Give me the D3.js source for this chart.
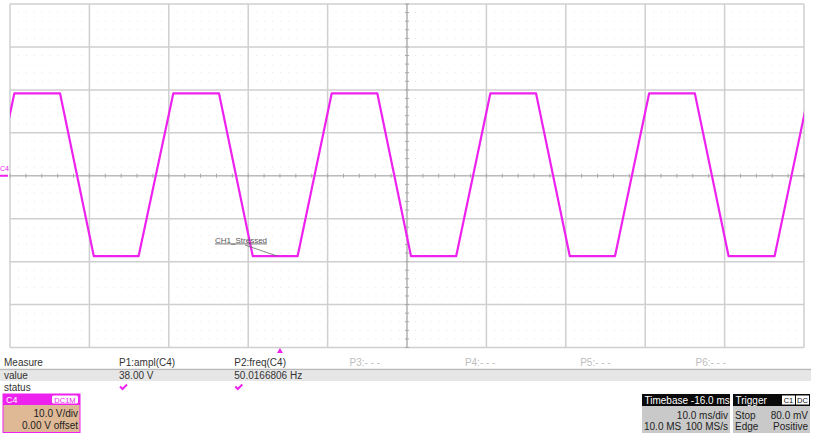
<!DOCTYPE html>
<html><head><meta charset="utf-8">
<script src="https://cdn.jsdelivr.net/npm/d3@7"></script>
<style>
html,body{margin:0;padding:0;background:#fff;}
svg{display:block;font-family:"Liberation Sans",Arial,sans-serif;}
</style></head>
<body><svg id="c" width="813" height="436"></svg>
<script>
// ---- data ----
const traceTimeMs = [-53.8, -49.45, -43.7, -39.45, -33.8, -29.43, -23.68, -19.43, -13.77, -9.48, -3.74, 0.5, 6.2, 10.5, 16.25, 20.5, 26.2, 30.5, 36.25, 40.5, 46.3, 50.6];
const traceVolts  = [-18.7, 19.2, 19.2, -18.7, -18.7, 19.2, 19.2, -18.7, -18.7, 19.2, 19.2, -18.7, -18.7, 19.2, 19.2, -18.7, -18.7, 19.2, 19.2, -18.7, -18.7, 19.2];
const measureRowLabels = ["Measure", "value", "status"];
const measureHeaders = ["P1:ampl(C4)", "P2:freq(C4)", "P3:- - -", "P4:- - -", "P5:- - -", "P6:- - -"];
const measureValues = ["38.00 V", "50.0166806 Hz", "", "", "", ""];
const measureStatus = [true, true, false, false, false, false];
const channelInfo = ["10.0 V/div", "0.00 V offset"];
const timebaseInfo = ["Timebase -16.0 ms", "10.0 ms/div", "10.0 MS", "100 MS/s"];
const triggerInfo = ["Trigger", "C1", "DC", "Stop", "80.0 mV", "Edge", "Positive"];
const annotationText = "CH1_Stressed";

const svg = d3.select("#c");
const L = 10, R = 804, T = 4, B = 347.5;
const x = d3.scaleLinear().domain([-50, 50]).range([L, R]);
const y = d3.scaleLinear().domain([-40, 40]).range([B, T]);
const MAG = "#ee22ee";

// minor dotted grid
const g = svg.append("g");
const minorX = d3.range(-50, 50.001, 2);
const minorY = d3.range(-40, 40.001, 2);
g.selectAll("line.mx").data(minorY).join("line")
  .attr("x1", L).attr("x2", R).attr("y1", d => y(d)).attr("y2", d => y(d))
  .attr("stroke", "#e6e6e6").attr("stroke-width", 1).attr("stroke-dasharray", "1,6.94");
// major grid
const majorX = d3.range(-50, 50.001, 10);
const majorY = d3.range(-40, 40.001, 10);
g.selectAll("line.vx").data(majorX).join("line")
  .attr("x1", d => x(d)).attr("x2", d => x(d)).attr("y1", T).attr("y2", B)
  .attr("stroke", "#cfcfcf").attr("stroke-width", 1.5);
g.selectAll("line.hy").data(majorY).join("line")
  .attr("x1", L).attr("x2", R).attr("y1", d => y(d)).attr("y2", d => y(d))
  .attr("stroke", "#cfcfcf").attr("stroke-width", 1.5);
// center axes with ticks
g.append("line").attr("x1", x(0)).attr("x2", x(0)).attr("y1", T).attr("y2", B).attr("stroke", "#b5b5b5").attr("stroke-width", 1.2);
g.append("line").attr("x1", L).attr("x2", R).attr("y1", y(0)).attr("y2", y(0)).attr("stroke", "#b5b5b5").attr("stroke-width", 1.2);
g.selectAll("line.tx").data(minorX).join("line")
  .attr("x1", d => x(d)).attr("x2", d => x(d)).attr("y1", y(0) - 2).attr("y2", y(0) + 2)
  .attr("stroke", "#a8a8a8").attr("stroke-width", 1);
g.selectAll("line.ty").data(minorY).join("line")
  .attr("x1", x(0) - 2).attr("x2", x(0) + 2).attr("y1", d => y(d)).attr("y2", d => y(d))
  .attr("stroke", "#a8a8a8").attr("stroke-width", 1);

// trace
svg.append("clipPath").attr("id", "clip").append("rect").attr("x", L).attr("y", T).attr("width", R - L).attr("height", B - T);
const pts = traceTimeMs.map((t, i) => [t, traceVolts[i]]);
svg.append("path").datum(pts).attr("clip-path", "url(#clip)")
  .attr("d", d3.line().x(d => x(d[0])).y(d => y(d[1])))
  .attr("fill", "none").attr("stroke", MAG).attr("stroke-width", 2.2).attr("stroke-linejoin", "round");

// channel marker
svg.append("text").attr("x", 0).attr("y", 171).attr("font-size", 7).attr("fill", MAG).text("C4");
svg.append("line").attr("x1", 0).attr("x2", 8).attr("y1", y(0)).attr("y2", y(0)).attr("stroke", MAG).attr("stroke-width", 2);

// annotation
svg.append("text").attr("x", 215).attr("y", 242.5).attr("font-size", 8).attr("fill", "#555")
  .attr("text-decoration", "underline").text(annotationText);
svg.append("line").attr("x1", 245).attr("y1", 245).attr("x2", 277).attr("y2", y(-18.7))
  .attr("stroke", "#666").attr("stroke-width", 0.8);

// trigger position marker
const trigX = x(-16);
svg.append("path").attr("d", `M${trigX - 3},353 L${trigX + 3},353 L${trigX},348 Z`).attr("fill", MAG);

// measure table
const colX = d3.scaleLinear().domain([0, 1]).range([119, 234.3]);
svg.append("rect").attr("x", 0).attr("y", 370.5).attr("width", 811).attr("height", 10.5).attr("fill", "#e6e6e6");
svg.append("line").attr("x1", 0).attr("x2", 811).attr("y1", 369.5).attr("y2", 369.5).attr("stroke", "#b8b8b8").attr("stroke-width", 1.5);
const rowY = [366, 378.5, 390.5];
svg.selectAll("text.rl").data(measureRowLabels).join("text")
  .attr("x", 4).attr("y", (d, i) => rowY[i]).attr("font-size", 10).attr("fill", "#333").text(d => d);
svg.selectAll("text.mh").data(measureHeaders).join("text")
  .attr("x", (d, i) => colX(i)).attr("y", rowY[0]).attr("font-size", 10)
  .attr("fill", (d, i) => i < 2 ? "#333" : "#bdbdbd").text(d => d);
svg.selectAll("text.mv").data(measureValues).join("text")
  .attr("x", (d, i) => colX(i)).attr("y", rowY[1]).attr("font-size", 10).attr("fill", "#333").text(d => d);
svg.selectAll("path.ck").data(measureStatus.map((s, i) => ({s, i})).filter(d => d.s)).join("path")
  .attr("d", d => { const cx = colX(d.i); return `M${cx + 1},386.5 L${cx + 3.5},389 L${cx + 8},384.5`; })
  .attr("fill", "none").attr("stroke", MAG).attr("stroke-width", 2);

// C4 channel box
const cb = svg.append("g");
cb.append("rect").attr("x", 3).attr("y", 394).attr("width", 77).attr("height", 38.5).attr("fill", "#dfb996").attr("stroke", MAG).attr("stroke-width", 1);
cb.append("rect").attr("x", 3).attr("y", 394).attr("width", 77).attr("height", 11).attr("fill", MAG);
cb.append("text").attr("x", 6).attr("y", 403).attr("font-size", 9).attr("fill", "#fff").text("C4");
cb.append("rect").attr("x", 52).attr("y", 395.5).attr("width", 26).attr("height", 8).attr("rx", 1.5).attr("fill", "#fff");
cb.append("text").attr("x", 65).attr("y", 402.5).attr("font-size", 7.5).attr("text-anchor", "middle").attr("fill", MAG).text("DC1M");
cb.selectAll("text.ci").data(channelInfo).join("text")
  .attr("x", 78).attr("y", (d, i) => 417 + i * 12).attr("font-size", 10).attr("text-anchor", "end").attr("fill", "#222").text(d => d);

// Timebase box
const tb = svg.append("g");
tb.append("rect").attr("x", 642).attr("y", 394).attr("width", 88).attr("height", 39).attr("fill", "#c9c9c9");
tb.append("rect").attr("x", 642).attr("y", 394).attr("width", 88).attr("height", 12).attr("fill", "#0a0a0a");
tb.append("text").attr("x", 644.5).attr("y", 403.5).attr("font-size", 10).attr("fill", "#fff").text(timebaseInfo[0]);
tb.append("text").attr("x", 728).attr("y", 418.5).attr("font-size", 10).attr("text-anchor", "end").attr("fill", "#222").text(timebaseInfo[1]);
tb.append("text").attr("x", 644).attr("y", 430).attr("font-size", 10).attr("fill", "#222").text(timebaseInfo[2]);
tb.append("text").attr("x", 728).attr("y", 430).attr("font-size", 10).attr("text-anchor", "end").attr("fill", "#222").text(timebaseInfo[3]);

// Trigger box
const tr = svg.append("g");
tr.append("rect").attr("x", 733).attr("y", 394).attr("width", 77).attr("height", 39).attr("fill", "#c9c9c9");
tr.append("rect").attr("x", 733).attr("y", 394).attr("width", 77).attr("height", 12).attr("fill", "#0a0a0a");
tr.append("text").attr("x", 735.5).attr("y", 403.5).attr("font-size", 10).attr("fill", "#fff").text(triggerInfo[0]);
tr.append("rect").attr("x", 782).attr("y", 395.5).attr("width", 13).attr("height", 9).attr("fill", "#fff");
tr.append("text").attr("x", 788.5).attr("y", 403).attr("font-size", 7.5).attr("text-anchor", "middle").attr("fill", "#111").text(triggerInfo[1]);
tr.append("rect").attr("x", 796).attr("y", 395.5).attr("width", 13).attr("height", 9).attr("fill", "#fff");
tr.append("text").attr("x", 802.5).attr("y", 403).attr("font-size", 7.5).attr("text-anchor", "middle").attr("fill", "#111").text(triggerInfo[2]);
tr.append("text").attr("x", 735).attr("y", 418.5).attr("font-size", 10).attr("fill", "#222").text(triggerInfo[3]);
tr.append("text").attr("x", 808).attr("y", 418.5).attr("font-size", 10).attr("text-anchor", "end").attr("fill", "#222").text(triggerInfo[4]);
tr.append("text").attr("x", 735).attr("y", 430).attr("font-size", 10).attr("fill", "#222").text(triggerInfo[5]);
tr.append("text").attr("x", 808).attr("y", 430).attr("font-size", 10).attr("text-anchor", "end").attr("fill", "#222").text(triggerInfo[6]);
</script></body></html>
